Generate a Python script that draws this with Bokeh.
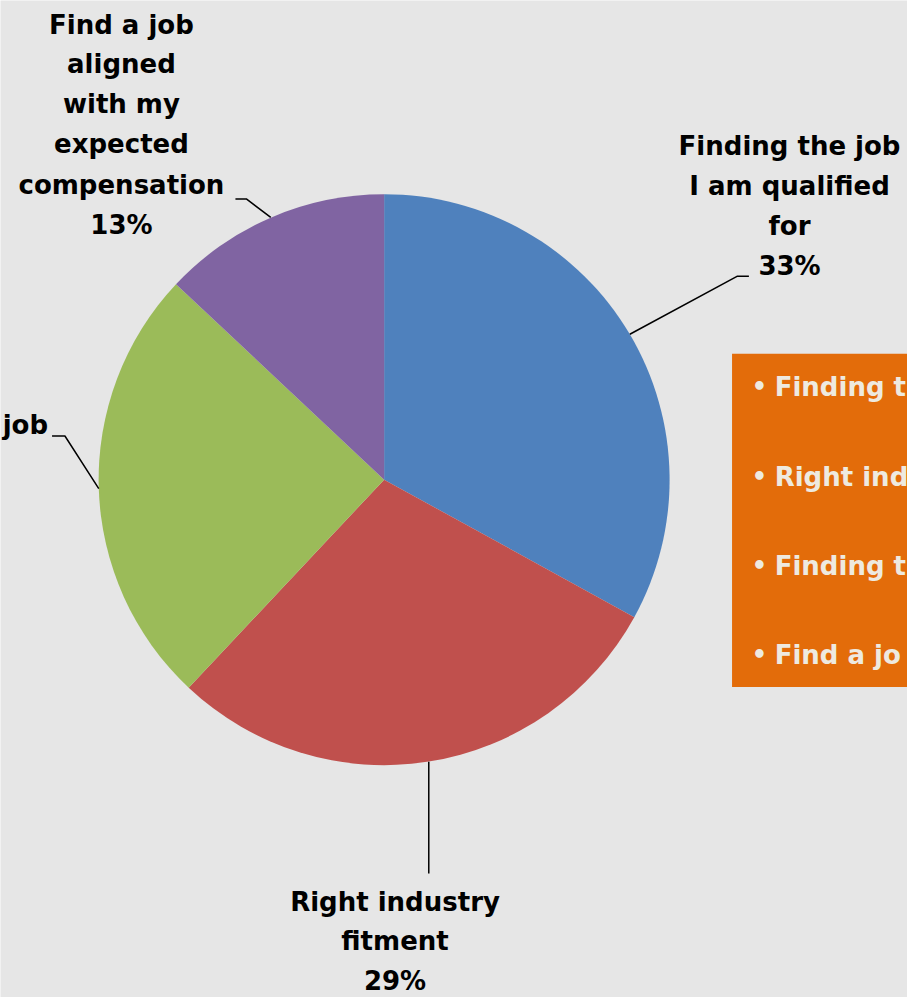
import math
from bokeh.plotting import figure
from bokeh.models import Range1d
from bokeh.core.properties import value
from bokeh.embed import file_html
from bokeh.resources import INLINE

# ---- data ----
categories = ["Finding the job I am qualified for", "Right industry fitment",
              "Finding the right job", "Find a job aligned with my expected compensation"]
shares = [33, 29, 25, 13]
colors = ["#4F81BD", "#C0504D", "#9BBB59", "#8064A2"]
label_lines = [["Finding the job", "I am qualified", "for", "33%"],
               ["Right industry", "fitment", "29%"],
               ["job"],
               ["Find a job", "aligned", "with my", "expected", "compensation", "13%"]]
# the text box is cut by the right edge of the slide; these are its visible parts
box_items = ["Finding t", "Right ind", "Finding t", "Find a jo"]

W, H = 915, 1005
FONT = "DejaVu Sans"

p = figure(width=907, height=997, x_range=Range1d(0, W), y_range=Range1d(0, H),
           output_backend="svg", toolbar_location=None, min_border=0)
p.axis.visible = False
p.grid.visible = False
p.outline_line_color = None
p.background_fill_color = "#E6E6E6"
p.border_fill_color = "#E6E6E6"

def Y(y):
    return H - y

cx, cy, r = 387, 483, 288
total = sum(shares)
cum = 0.0
mids = []
for s, c in zip(shares, colors):
    f0 = cum / total
    f1 = (cum + s) / total
    p.wedge(x=cx, y=Y(cy), radius=r,
            start_angle=math.pi / 2 - 2 * math.pi * f1,
            end_angle=math.pi / 2 - 2 * math.pi * f0,
            direction="anticlock", fill_color=c, line_color=None)
    mids.append((f0 + f1) / 2)
    cum += s

def anchor(i):
    a = 2 * math.pi * mids[i]
    return cx + r * math.sin(a), cy - r * math.cos(a)

# leader lines
ax, ay = anchor(0)
p.line([ax, 743, 755], [Y(ay), Y(278), Y(278)], line_color="black", line_width=1.5)
ax, ay = anchor(1)
p.line([ax, ax], [Y(ay), Y(880)], line_color="black", line_width=1.5)
ax, ay = anchor(2)
p.line([ax, 65, 52], [Y(ay), Y(439), Y(439)], line_color="black", line_width=1.5)
ax, ay = anchor(3)
p.line([ax, 248, 237], [Y(ay), Y(200), Y(200)], line_color="black", line_width=1.5)

def block(lines, xc, ys, align="center"):
    p.text(x=[xc] * len(lines), y=[Y(v) for v in ys], text=lines,
           text_font=value(FONT), text_font_style="bold", text_font_size="26px",
           text_color="black", text_align=align, text_baseline="middle")

block(label_lines[0], 796, [147, 187, 227, 268])
block(label_lines[1], 398, [909, 948, 988])
block(label_lines[2], 48, [428], align="right")
block(label_lines[3], 122, [25, 64, 104, 145, 186, 226])

# orange box
p.quad(left=738, right=W + 20, top=Y(356), bottom=Y(692),
       fill_color="#E36C0A", line_color=None)
ys = [390, 480, 570, 660]
p.text(x=[758] * 4, y=[Y(v) for v in ys], text=["•"] * 4,
       text_font=value(FONT), text_font_style="bold", text_font_size="24px",
       text_color="#EEEAE0", text_align="left", text_baseline="middle")
p.text(x=[781] * 4, y=[Y(v) for v in ys], text=box_items,
       text_font=value(FONT), text_font_style="bold", text_font_size="26px",
       text_color="#EEEAE0", text_align="left", text_baseline="middle")

open("out.html", "w").write(file_html(p, INLINE))
